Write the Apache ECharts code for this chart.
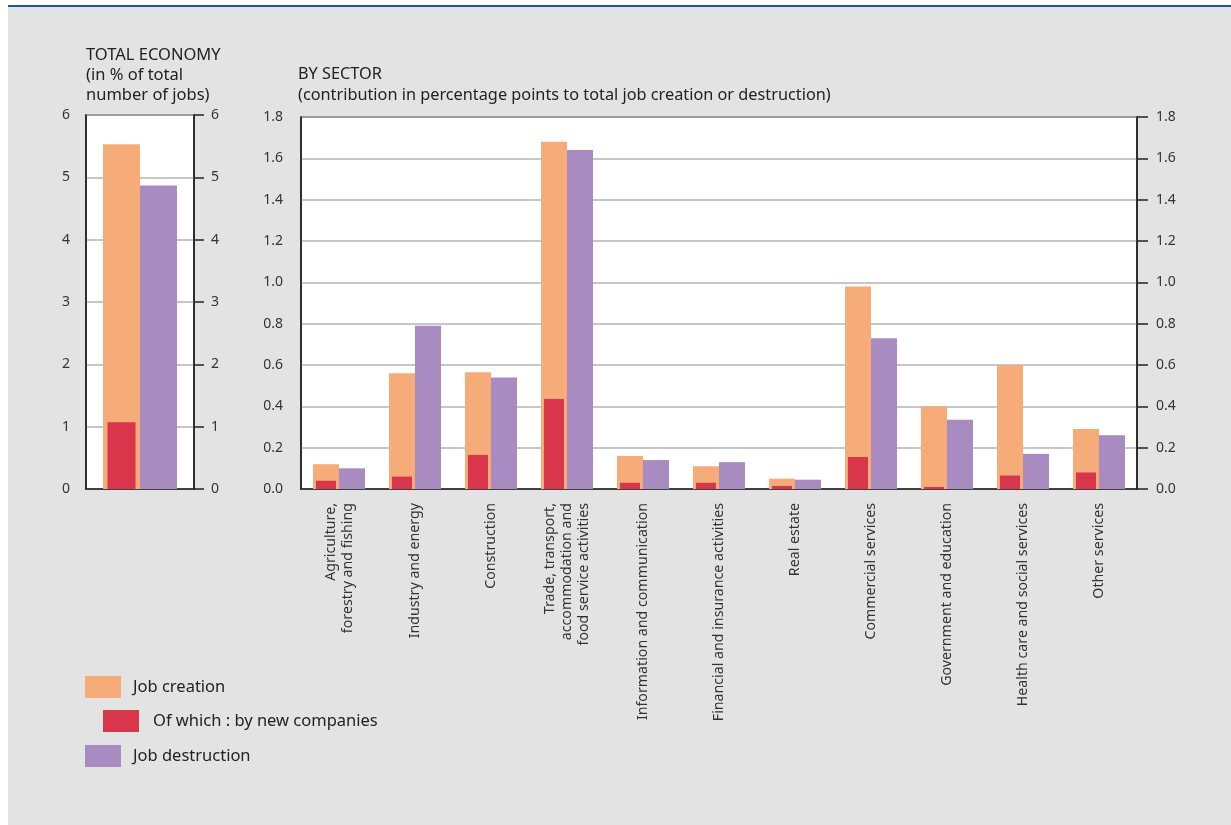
<!DOCTYPE html>
<html>
<head>
<meta charset="utf-8">
<script src="https://cdn.jsdelivr.net/npm/echarts@6/dist/echarts.min.js"></script>
<style>
html,body{margin:0;padding:0;background:#fff;width:1231px;height:825px;overflow:hidden;}
#bg{position:absolute;left:8px;top:5px;right:0;bottom:0;background:#e3e3e3;border-top:2px solid #1c5a9c;}
#chart{position:absolute;left:0;top:0;width:1231px;height:825px;}
</style>
</head>
<body>
<div id="bg"></div>
<div id="chart"></div>
<script>
// ---- data ----
var totalCategory = ['Total economy'];
var totalCreation = [5.53];
var totalNewCompanies = [1.07];
var totalDestruction = [4.87];

var sectors = [
  'Agriculture,\nforestry and fishing',
  'Industry and energy',
  'Construction',
  'Trade, transport,\naccommodation and\nfood service activities',
  'Information and communication',
  'Financial and insurance activities',
  'Real estate',
  'Commercial services',
  'Government and education',
  'Health care and social services',
  'Other services'
];
var sectorCreation =     [0.12, 0.56, 0.565, 1.68, 0.16, 0.11, 0.05, 0.98, 0.40, 0.60, 0.29];
var sectorNewCompanies = [0.04, 0.06, 0.165, 0.435, 0.03, 0.03, 0.015, 0.155, 0.01, 0.065, 0.08];
var sectorDestruction =  [0.10, 0.79, 0.54, 1.64, 0.14, 0.13, 0.045, 0.73, 0.335, 0.17, 0.26];

var totalAxis = {min: 0, max: 6, interval: 1};
var sectorAxis = {min: 0, max: 1.8, interval: 0.2};

var NAME_CREATION = 'Job creation';
var NAME_NEW = 'Of which : by new companies';
var NAME_DESTRUCTION = 'Job destruction';

// ---- styles ----
var C_ORANGE = '#f5ac78', C_RED = '#d9354b', C_PURPLE = '#a78bc1';
var FONT = 'Noto Sans';
var TXT = '#333';
var AXIS_C = '#222';

var chart = echarts.init(document.getElementById('chart'), null, {renderer: 'canvas'});

function valAxis(gridIndex, position, cfg, fmt, tick, tickLen, split, margin) {
  return {
    type: 'value', gridIndex: gridIndex, position: position,
    min: cfg.min, max: cfg.max, interval: cfg.interval,
    axisLine: {show: true, lineStyle: {color: AXIS_C, width: 1.5}},
    axisTick: {show: tick, length: tickLen, inside: false, lineStyle: {color: AXIS_C, width: 1.5}},
    axisLabel: {show: true, color: TXT, fontSize: 14, fontFamily: FONT, margin: margin, formatter: fmt},
    splitLine: {show: split, lineStyle: {color: '#b4b4b4', width: 1.5}}
  };
}

var option = {
  animation: false,
  textStyle: {fontFamily: FONT},
  title: [
    {text: 'TOTAL ECONOMY\n(in % of total\nnumber of jobs)', left: 86, top: 45, padding: 0,
     textStyle: {fontSize: 16.5, fontWeight: 'normal', color: '#222', lineHeight: 20, fontFamily: FONT}},
    {text: 'BY SECTOR\n(contribution in percentage points to total job creation or destruction)', left: 298, top: 64, padding: 0,
     textStyle: {fontSize: 16.3, fontWeight: 'normal', color: '#222', lineHeight: 21, fontFamily: FONT}}
  ],
  legend: [
    {data: [NAME_CREATION], left: 85, top: 676, padding: 0, icon: 'rect', itemWidth: 36, itemHeight: 22,
     textStyle: {fontSize: 16.5, color: '#222', fontFamily: FONT, padding: [0, 0, 0, 7]}, selectedMode: false},
    {data: [NAME_NEW], left: 103, top: 710, padding: 0, icon: 'rect', itemWidth: 36, itemHeight: 22,
     textStyle: {fontSize: 16.5, color: '#222', fontFamily: FONT, padding: [0, 0, 0, 9]}, selectedMode: false},
    {data: [NAME_DESTRUCTION], left: 85, top: 745, padding: 0, icon: 'rect', itemWidth: 36, itemHeight: 22,
     textStyle: {fontSize: 16.5, color: '#222', fontFamily: FONT, padding: [0, 0, 0, 7]}, selectedMode: false}
  ],
  grid: [
    {left: 86, top: 115, width: 108, height: 374, show: true, backgroundColor: '#fff', borderColor: AXIS_C, borderWidth: 1.5},
    {left: 301, top: 117, width: 836, height: 372, show: true, backgroundColor: '#fff', borderColor: AXIS_C, borderWidth: 1.5}
  ],
  xAxis: [
    {type: 'category', gridIndex: 0, data: totalCategory, axisLabel: {show: false}, axisTick: {show: false},
     axisLine: {show: true, lineStyle: {color: AXIS_C, width: 1.5}}},
    {type: 'category', gridIndex: 0, data: totalCategory, show: false},
    {type: 'category', gridIndex: 1, data: sectors, axisTick: {show: false},
     axisLine: {show: true, lineStyle: {color: AXIS_C, width: 1.5}},
     axisLabel: {show: true, interval: 0, rotate: 90, margin: 14, color: TXT, fontSize: 14.2, lineHeight: 17, fontFamily: FONT}},
    {type: 'category', gridIndex: 1, data: sectors, show: false}
  ],
  yAxis: [
    valAxis(0, 'left', totalAxis, function (v) { return String(v); }, false, 0, true, 16),
    valAxis(0, 'right', totalAxis, function (v) { return String(v); }, true, 10, false, 17),
    valAxis(1, 'left', sectorAxis, function (v) { return v.toFixed(1); }, false, 0, true, 18),
    valAxis(1, 'right', sectorAxis, function (v) { return v.toFixed(1); }, true, 11, false, 19)
  ],
  series: [
    // total economy
    {name: NAME_CREATION, type: 'bar', xAxisIndex: 0, yAxisIndex: 0, data: totalCreation, barWidth: 37, barGap: 0,
     itemStyle: {color: C_ORANGE}, z: 2},
    {name: NAME_DESTRUCTION, type: 'bar', xAxisIndex: 0, yAxisIndex: 0, data: totalDestruction, barWidth: 37, barGap: 0,
     itemStyle: {color: C_PURPLE}, z: 2},
    {name: NAME_NEW, type: 'bar', xAxisIndex: 1, yAxisIndex: 0, data: totalNewCompanies, barWidth: 28, barGap: 0,
     itemStyle: {color: C_RED}, z: 3},
    {name: '_spacer1', type: 'bar', xAxisIndex: 1, yAxisIndex: 0, data: totalDestruction, barWidth: 37, barGap: 0,
     itemStyle: {color: 'rgba(0,0,0,0)'}, silent: true, z: 1},
    // by sector
    {name: NAME_CREATION, type: 'bar', xAxisIndex: 2, yAxisIndex: 2, data: sectorCreation, barWidth: 26, barGap: 0,
     itemStyle: {color: C_ORANGE}, z: 2},
    {name: NAME_DESTRUCTION, type: 'bar', xAxisIndex: 2, yAxisIndex: 2, data: sectorDestruction, barWidth: 26, barGap: 0,
     itemStyle: {color: C_PURPLE}, z: 2},
    {name: NAME_NEW, type: 'bar', xAxisIndex: 3, yAxisIndex: 2, data: sectorNewCompanies, barWidth: 20, barGap: 0,
     itemStyle: {color: C_RED}, z: 3},
    {name: '_spacer2', type: 'bar', xAxisIndex: 3, yAxisIndex: 2, data: sectorDestruction, barWidth: 26, barGap: 0,
     itemStyle: {color: 'rgba(0,0,0,0)'}, silent: true, z: 1}
  ]
};
chart.setOption(option);
</script>
</body>
</html>
